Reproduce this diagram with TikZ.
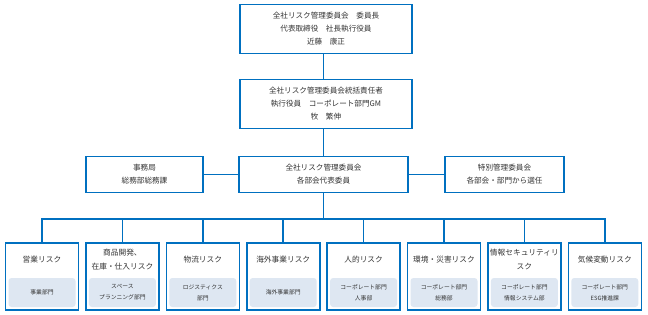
\documentclass[tikz,border=0pt]{standalone}
\usepackage{fontspec}
\setmainfont{Noto Sans CJK JP}
\usepackage{xcolor}
\usepackage{tikz}
\usetikzlibrary{positioning}

\definecolor{orgblue}{RGB}{0,112,192}
\definecolor{deptfill}{RGB}{222,231,242}
\definecolor{txtgray}{RGB}{51,51,51}

\begin{document}
\begin{tikzpicture}[
			x=1pt, y=-1pt,
			font=\fontsize{7.6}{13}\selectfont,
			text=txtgray,
			box/.style={draw=orgblue, line width=1.6pt, fill=white, align=center, inner sep=0pt},
			topbox/.style={box, minimum width=172pt, minimum height=49pt},
			midbox/.style={box, minimum height=36pt},
			riskbox/.style={box, minimum width=73pt, minimum height=67pt},
			riskname/.style={align=center, inner sep=0pt, font=\fontsize{7.7}{14}\selectfont},
			dept/.style={fill=deptfill, rounded corners=3pt, align=center, inner sep=0pt, minimum width=67pt, minimum height=29pt, font=\fontsize{5.8}{11}\selectfont},
			link/.style={draw=orgblue, line width=1.6pt}
			]
			\useasboundingbox (0,0) rectangle (648,315);
			
			% top of the organisation
			\node[topbox] (chair) at (326,29) {全社リスク管理委員会\quad 委員長\\代表取締役\quad 社長執行役員\\近藤\quad 康正};
			\node[topbox] (head) at (326,104) {全社リスク管理委員会統括責任者\\執行役員\quad コーポレート部門GM\\牧\quad 繁伸};
			
			% committee row
			\node[midbox, minimum width=169pt] (comm) at (323.5,174.5) {全社リスク管理委員会\\各部会代表委員};
			\node[midbox, minimum width=117pt] (office) at (144.5,174.5) {事務局\\総務部総務課};
			\node[midbox, minimum width=119pt] (special) at (504.5,174.5) {特別管理委員会\\各部会・部門から選任};
			
			% risk boxes
			\node[riskbox] (r1) at (42,276.5) {};
			\node[riskbox] (r2) at (122.4,276.5) {};
			\node[riskbox] (r3) at (202.8,276.5) {};
			\node[riskbox] (r4) at (283.2,276.5) {};
			\node[riskbox] (r5) at (363.6,276.5) {};
			\node[riskbox] (r6) at (444,276.5) {};
			\node[riskbox] (r7) at (524.4,276.5) {};
			\node[riskbox] (r8) at (604.8,276.5) {};
			
			\node[riskname] (t1) at (42,259.5) {営業リスク};
			\node[riskname] (t2) at (122.4,259.5) {商品開発、\\在庫・仕入リスク};
			\node[riskname] (t3) at (202.8,259.5) {物流リスク};
			\node[riskname] (t4) at (283.2,259.5) {海外事業リスク};
			\node[riskname] (t5) at (363.6,259.5) {人的リスク};
			\node[riskname] (t6) at (444,259.5) {環境・災害リスク};
			\node[riskname] (t7) at (524.4,259.5) {情報セキュリティリ\\スク};
			\node[riskname] (t8) at (604.8,259.5) {気候変動リスク};
			
			\node[dept] (d1) at (42,292.5) {事業部門};
			\node[dept] (d2) at (122.4,292.5) {スペース\\プランニング部門};
			\node[dept] (d3) at (202.8,292.5) {ロジスティクス\\部門};
			\node[dept] (d4) at (283.2,292.5) {海外事業部門};
			\node[dept] (d5) at (363.6,292.5) {コーポレート部門\\人事部};
			\node[dept] (d6) at (444,292.5) {コーポレート部門\\総務部};
			\node[dept] (d7) at (524.4,292.5) {コーポレート部門\\情報システム部};
			\node[dept] (d8) at (604.8,292.5) {コーポレート部門\\ESG推進課};
			
			\coordinate (bus) at (323.5,219);
			
			\draw[link] (chair.south -| comm) -- (head.north -| comm);
			\draw[link] (head.south -| comm) -- (comm.north);
			\draw[link] (comm) -- (office);
			\draw[link] (comm) -- (special);
			\draw[link] (comm.south) -- (bus);
			\draw[link] (bus) -| (r1.north);
			\draw[link] (bus) -| (r2.north);
			\draw[link] (bus) -| (r3.north);
			\draw[link] (bus) -| (r4.north);
			\draw[link] (bus) -| (r5.north);
			\draw[link] (bus) -| (r6.north);
			\draw[link] (bus) -| (r7.north);
			\draw[link] (bus) -| (r8.north);
		\end{tikzpicture}
\end{document}
